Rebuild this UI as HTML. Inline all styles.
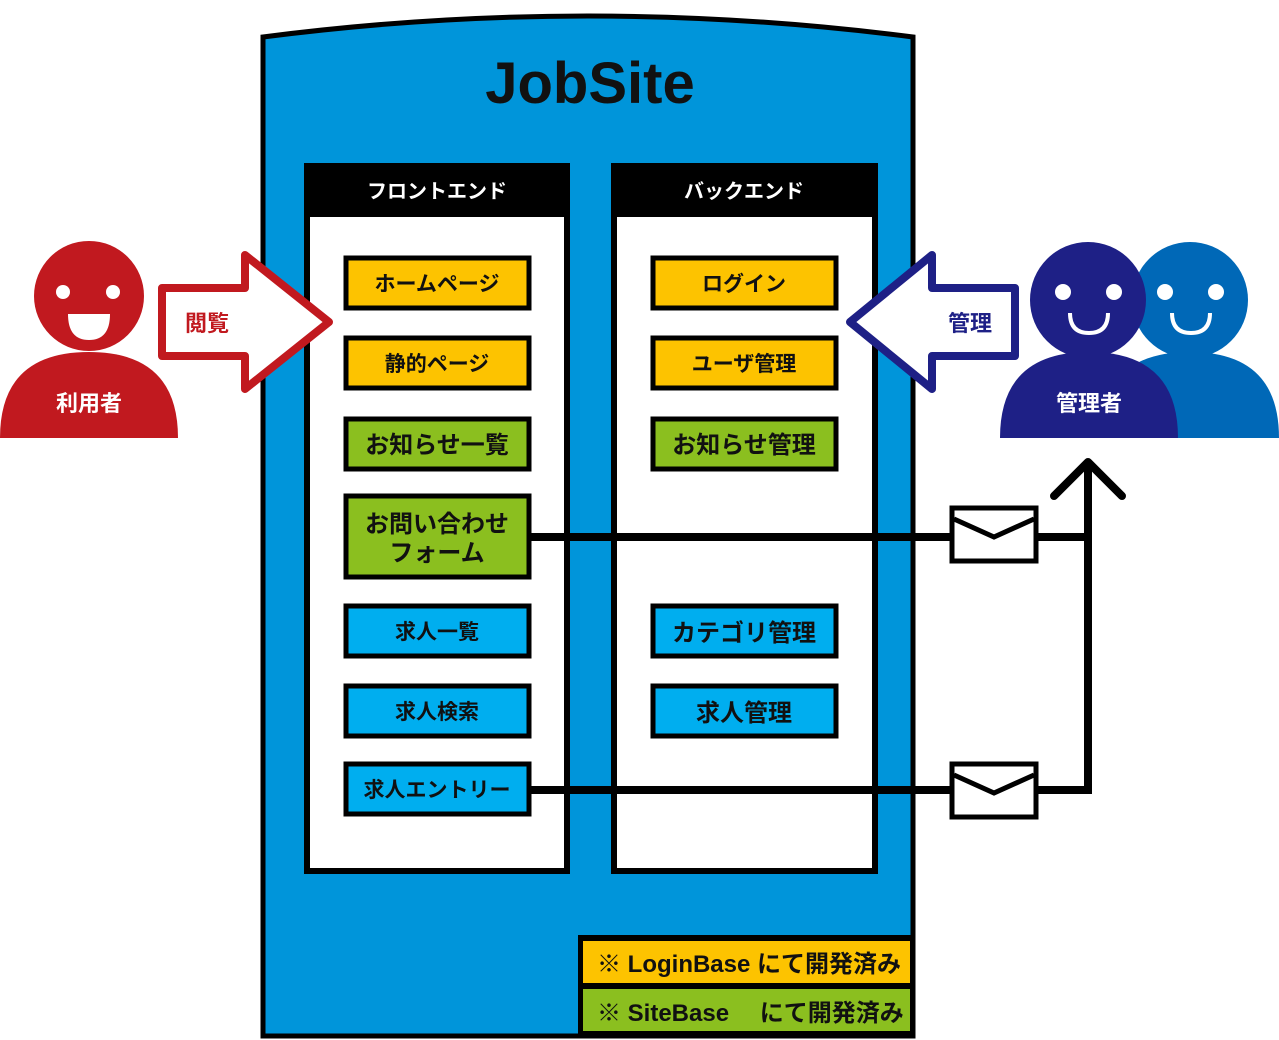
<!DOCTYPE html>
<html><head><meta charset="utf-8"><style>
html,body{margin:0;padding:0;background:#fff;}
svg{display:block;}
text{font-family:"Liberation Sans","Noto Sans CJK JP",sans-serif;font-weight:bold;}
</style></head><body>
<svg width="1279" height="1040" viewBox="0 0 1279 1040" xmlns="http://www.w3.org/2000/svg">
<!-- main container -->
<path d="M263,37 Q588,-5 913,37 L913,1036 L263,1036 Z" fill="#0095DA" stroke="#000" stroke-width="5"/>
<text x="590" y="103" font-size="58" text-anchor="middle" fill="#111">JobSite</text>
<!-- panels -->
<rect x="307" y="166" width="260" height="705" fill="#fff" stroke="#000" stroke-width="6"/>
<rect x="304" y="163" width="266" height="54" fill="#000"/>
<text x="437" y="198" font-size="20" text-anchor="middle" fill="#fff">フロントエンド</text>
<rect x="614" y="166" width="261" height="705" fill="#fff" stroke="#000" stroke-width="6"/>
<rect x="611" y="163" width="267" height="54" fill="#000"/>
<text x="744" y="198" font-size="20" text-anchor="middle" fill="#fff">バックエンド</text>
<!-- connector lines -->
<g stroke="#000" stroke-width="8" fill="none">
<line x1="530" y1="537" x2="1092" y2="537"/>
<line x1="530" y1="790" x2="1092" y2="790"/>
<line x1="1088" y1="794" x2="1088" y2="466"/>
<polyline points="1054,496 1088,462 1122,496" stroke-linecap="round" stroke-linejoin="round"/>
</g>
<!-- envelopes -->
<g fill="#fff" stroke="#000" stroke-width="5">
<rect x="952" y="508" width="84" height="53"/>
<polyline points="954,519 994,537 1034,519" fill="none"/>
<rect x="952" y="764" width="84" height="53"/>
<polyline points="954,775 994,793 1034,775" fill="none"/>
</g>
<!-- boxes -->
<g stroke="#000" stroke-width="5">
<rect x="346" y="258" width="183" height="50" fill="#FDC300"/>
<rect x="346" y="338" width="183" height="50" fill="#FDC300"/>
<rect x="346" y="419" width="183" height="50" fill="#8BBF1F"/>
<rect x="346" y="496" width="183" height="81" fill="#8BBF1F"/>
<rect x="346" y="606" width="183" height="50" fill="#00AEEF"/>
<rect x="346" y="686" width="183" height="50" fill="#00AEEF"/>
<rect x="346" y="764" width="183" height="50" fill="#00AEEF"/>
<rect x="653" y="258" width="183" height="50" fill="#FDC300"/>
<rect x="653" y="338" width="183" height="50" fill="#FDC300"/>
<rect x="653" y="419" width="183" height="50" fill="#8BBF1F"/>
<rect x="653" y="606" width="183" height="50" fill="#00AEEF"/>
<rect x="653" y="686" width="183" height="50" fill="#00AEEF"/>
</g>
<g font-size="21" text-anchor="middle" fill="#111">
<text x="437" y="291">ホームページ</text>
<text x="437" y="371">静的ページ</text>
<text x="437" y="453" font-size="24">お知らせ一覧</text>
<text x="437" y="532" font-size="24">お問い合わせ</text>
<text x="437" y="561" font-size="24">フォーム</text>
<text x="437" y="639">求人一覧</text>
<text x="437" y="719">求人検索</text>
<text x="437" y="797">求人エントリー</text>
<text x="744" y="291">ログイン</text>
<text x="744" y="371">ユーザ管理</text>
<text x="744" y="453" font-size="24">お知らせ管理</text>
<text x="744" y="641" font-size="24">カテゴリ管理</text>
<text x="744" y="721" font-size="24">求人管理</text>
</g>
<!-- legend -->
<rect x="578" y="935" width="336" height="102" fill="#000"/>
<rect x="583" y="941" width="327" height="42" fill="#FDC300"/>
<rect x="583" y="989" width="327" height="42" fill="#8BBF1F"/>
<text x="597" y="972" font-size="24" fill="#111">※ LoginBase にて開発済み</text>
<text x="597" y="1021" font-size="24" fill="#111" xml:space="preserve">※ SiteBase　 にて開発済み</text>
<!-- user (red) -->
<g fill="#C1191F">
<circle cx="89" cy="296" r="55"/>
<path d="M0,438 Q0,352 89,352 Q178,352 178,438 Z"/>
</g>
<circle cx="63" cy="292" r="7" fill="#fff"/>
<circle cx="113" cy="292" r="7" fill="#fff"/>
<path d="M68,314 L110,314 Q110,340 89,340 Q68,340 68,314 Z" fill="#fff"/>
<text x="89" y="411" font-size="22" text-anchor="middle" fill="#fff">利用者</text>
<polygon points="162,288 245,288 245,255 329,322 245,389 245,356 162,356" fill="#fff" stroke="#C1191F" stroke-width="8" stroke-linejoin="round"/>
<text x="207" y="331" font-size="22" text-anchor="middle" fill="#C1191F">閲覧</text>
<!-- admin -->
<g fill="#0068B7">
<circle cx="1190" cy="300" r="58"/>
<path d="M1100,438 Q1100,352 1190,352 Q1279,352 1279,438 Z"/>
</g>
<g fill="#1E2086">
<circle cx="1088" cy="300" r="58"/>
<path d="M1000,438 Q1000,352 1089,352 Q1178,352 1178,438 Z"/>
</g>
<g fill="#fff">
<circle cx="1063" cy="292" r="8"/><circle cx="1114" cy="292" r="8"/>
<circle cx="1165" cy="292" r="8"/><circle cx="1216" cy="292" r="8"/>
</g>
<g fill="none" stroke="#fff" stroke-width="4">
<path d="M1070,313 Q1070,333 1089,333 Q1108,333 1108,313"/>
<path d="M1172,313 Q1172,333 1191,333 Q1210,333 1210,313"/>
</g>
<text x="1089" y="411" font-size="22" text-anchor="middle" fill="#fff">管理者</text>
<polygon points="1015,288 932,288 932,255 850,322 932,389 932,356 1015,356" fill="#fff" stroke="#1E2086" stroke-width="8" stroke-linejoin="round"/>
<text x="970" y="331" font-size="22" text-anchor="middle" fill="#1E2086">管理</text>
</svg>
</body></html>
